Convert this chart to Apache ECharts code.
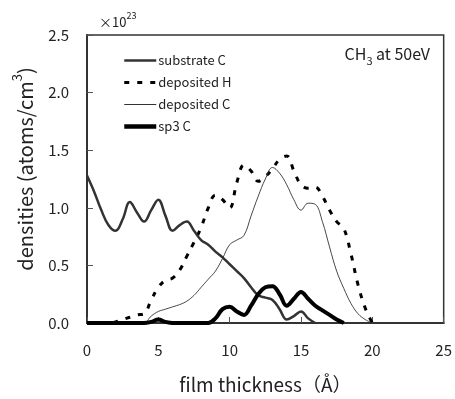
<!DOCTYPE html>
<html>
<head>
<meta charset="utf-8">
<script src="https://cdn.jsdelivr.net/npm/echarts@6/dist/echarts.min.js"></script>
<style>
  html, body { margin: 0; padding: 0; background: #fff; }
  #chart { width: 455px; height: 399px; }
</style>
</head>
<body>
<div id="chart"></div>
<script>
// film thickness (Å), step 0.5
const thickness = [0, 0.5, 1, 1.5, 2, 2.5, 3, 3.5, 4, 4.5, 5, 5.5, 6, 6.5, 7, 7.5, 8, 8.5, 9, 9.5,
  10, 10.5, 11, 11.5, 12, 12.5, 13, 13.5, 14, 14.5, 15, 15.5, 16, 16.5, 17, 17.5, 18, 18.5, 19, 19.5, 20];

// densities, x10^23 atoms/cm3
const substrateC = [1.28, 1.14, 0.98, 0.85, 0.80, 0.90, 1.05, 0.96, 0.88, 0.98, 1.07, 0.93, 0.80, 0.85, 0.88, 0.80,
  0.72, 0.68, 0.62, 0.57, 0.51, 0.45, 0.39, 0.31, 0.24, 0.22, 0.20, 0.12, 0.03, 0.06, 0.10, 0.04, 0.0,
  null, null, null, null, null, null, null, null];
const depositedH = [0, 0, 0, 0, 0.01, 0.03, 0.05, 0.07, 0.08, 0.20, 0.31, 0.37, 0.39, 0.46, 0.58, 0.70,
  0.83, 1.00, 1.11, 1.07, 1.00, 1.22, 1.37, 1.32, 1.23, 1.27, 1.34, 1.42, 1.45, 1.32, 1.20, 1.17, 1.18,
  1.10, 0.98, 0.88, 0.82, 0.60, 0.33, 0.13, 0.0];
const depositedC = [0, 0, 0, 0, 0, 0, 0, 0, 0, 0.06, 0.10, 0.12, 0.14, 0.16, 0.19, 0.24,
  0.31, 0.38, 0.45, 0.56, 0.68, 0.72, 0.76, 0.93, 1.10, 1.25, 1.35, 1.30, 1.20, 1.07, 0.98, 1.04, 1.03,
  0.88, 0.66, 0.45, 0.30, 0.17, 0.08, 0.03, 0.0];
const sp3C = [0, 0, 0, 0, 0, 0, 0, 0, 0, 0.01, 0.03, 0.01, 0, 0, 0, 0,
  0, 0, 0.04, 0.12, 0.14, 0.10, 0.07, 0.15, 0.25, 0.31, 0.32, 0.25, 0.15, 0.21, 0.27, 0.21, 0.15,
  0.11, 0.07, 0.03, 0.0, null, null, null, null];

const xTicks = [0, 5, 10, 15, 20, 25];
const yTicks = [0, 0.5, 1.0, 1.5, 2.0, 2.5];

const font = "'Noto Sans CJK JP', 'Liberation Sans', sans-serif";
const pairs = (ys) => thickness.map((x, i) => [x, ys[i]]);

const chart = echarts.init(document.getElementById("chart"));
chart.setOption({
  backgroundColor: "#fff",
  animation: false,
  textStyle: { fontFamily: font },
  title: [
    {
      text: "{a|×10}{s|23}",
      left: 94,
      top: 6,
      textStyle: {
        rich: {
          a: { fontFamily: font, fontSize: 13, fontWeight: "normal", color: "#222", verticalAlign: "bottom", lineHeight: 18 },
          s: { fontFamily: font, fontSize: 9, fontWeight: "normal", color: "#222", verticalAlign: "top", lineHeight: 18 },
        },
      },
    },
    {
      text: "{a|CH}{s|3}{a| at 50eV}",
      right: 20,
      top: 41,
      textStyle: {
        rich: {
          a: { fontFamily: font, fontSize: 16, fontWeight: "normal", color: "#222", lineHeight: 20, verticalAlign: "top" },
          s: { fontFamily: font, fontSize: 11, fontWeight: "normal", color: "#222", lineHeight: 20, verticalAlign: "bottom", padding: [9, 0, 0, 0] },
        },
      },
    },
  ],
  legend: {
    orient: "vertical",
    left: 122,
    top: 54,
    padding: 0,
    itemWidth: 32,
    itemHeight: 14,
    itemGap: 9,
    itemStyle: { opacity: 0 },
    textStyle: { fontFamily: font, fontSize: 13, color: "#222", padding: [0, 0, 0, -3] },
    data: [
      { name: "substrate C", lineStyle: { width: 2.5 } },
      { name: "deposited H", lineStyle: { width: 3 } },
      { name: "deposited C", lineStyle: { width: 1 } },
      { name: "sp3 C", lineStyle: { width: 4.5 } },
    ],
  },
  grid: {
    left: 87,
    right: 8,
    top: 35,
    bottom: 74,
    show: true,
    borderColor: "#333",
    borderWidth: 1.5,
  },
  xAxis: {
    type: "value",
    min: 0,
    max: 25,
    interval: 5,
    name: "film thickness（Å）",
    nameLocation: "middle",
    nameGap: 52,
    nameTextStyle: { fontFamily: font, fontSize: 19, color: "#222" },
    axisLine: { lineStyle: { color: "#333", width: 2 } },
    axisTick: { inside: true, length: 6, lineStyle: { color: "#555" } },
    axisLabel: { margin: 20, fontSize: 15, color: "#222", fontFamily: font, formatter: (v) => (xTicks.includes(v) ? String(v) : "") },
    splitLine: { show: false },
  },
  yAxis: {
    type: "value",
    min: 0,
    max: 2.5,
    interval: 0.5,
    name: "{a|densities (atoms/cm}{s|3}{a|)}",
    nameLocation: "middle",
    nameGap: 52,
    nameTextStyle: {
      padding: [0, 0, 0, 20],
      rich: {
        a: { fontFamily: font, fontSize: 20, color: "#222", lineHeight: 24, verticalAlign: "bottom" },
        s: { fontFamily: font, fontSize: 13, color: "#222", lineHeight: 24, verticalAlign: "top" },
      },
    },
    axisLine: { show: true, lineStyle: { color: "#333", width: 2 } },
    axisTick: { show: true, inside: true, length: 6, lineStyle: { color: "#555" } },
    axisLabel: { margin: 18, fontSize: 15, color: "#222", fontFamily: font, formatter: (v) => (yTicks.includes(v) ? v.toFixed(1) : "") },
    splitLine: { show: false },
  },
  series: [
    {
      name: "substrate C",
      type: "line",
      data: pairs(substrateC),
      smooth: 0.4,
      symbol: "none",
      lineStyle: { color: "#333", width: 2.5 },
      itemStyle: { color: "#333" },
      z: 3,
    },
    {
      name: "deposited H",
      type: "line",
      data: pairs(depositedH),
      smooth: 0.4,
      symbol: "none",
      lineStyle: { color: "#000", width: 3, type: [5, 8] },
      itemStyle: { color: "#000" },
      z: 2,
    },
    {
      name: "deposited C",
      type: "line",
      data: pairs(depositedC),
      smooth: 0.4,
      symbol: "none",
      lineStyle: { color: "#333", width: 0.9 },
      itemStyle: { color: "#333" },
      z: 2,
    },
    {
      name: "sp3 C",
      type: "line",
      data: pairs(sp3C),
      smooth: 0.4,
      symbol: "none",
      lineStyle: { color: "#000", width: 4 },
      itemStyle: { color: "#000" },
      z: 4,
    },
  ],
});
</script>
</body>
</html>
